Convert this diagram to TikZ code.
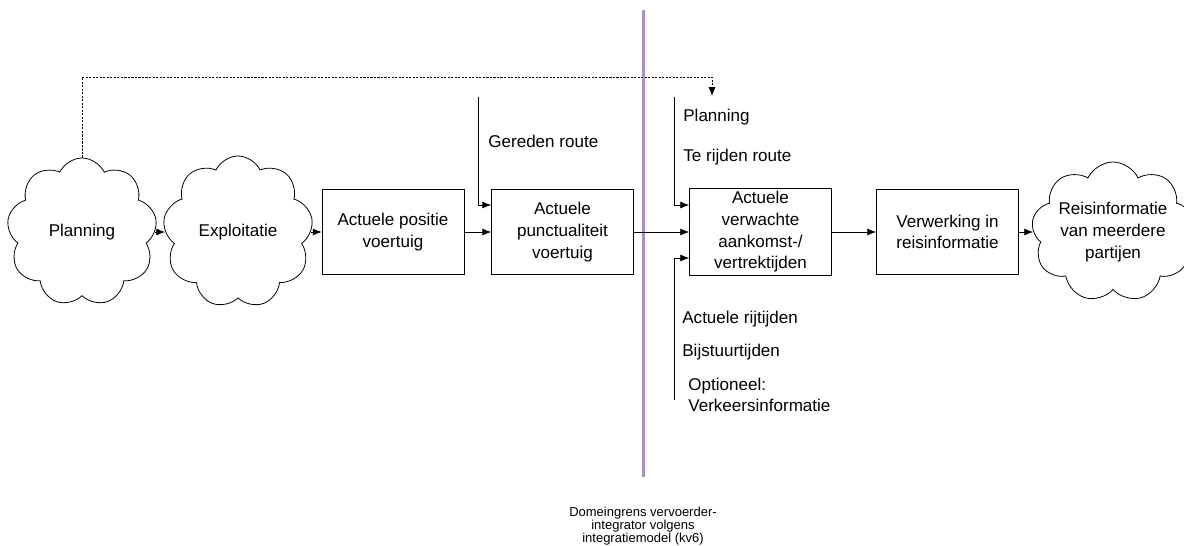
\documentclass[tikz,border=0pt]{standalone}
\usepackage{fontspec}
\setmainfont{Liberation Sans}
\usetikzlibrary{shapes.symbols, arrows.meta, positioning, calc}
\definecolor{grenslila}{RGB}{165, 145, 200}
\tikzset{
  procbox/.style={draw, line width=0.45pt, minimum width=2.84cm, minimum height=1.7cm, align=center, inner sep=2pt},
  wolk/.style={draw, cloud, cloud puffs=9, cloud puff arc=130, cloud ignores aspect, line width=0.45pt, align=center, inner sep=0pt},
  pijl/.style={line width=0.45pt, -{Latex[length=5pt, width=4pt]}},
  invoer/.style={anchor=west, inner sep=0pt, align=left}
}

\begin{document}
\begin{tikzpicture}[font=\fontsize{9.7}{12.3}\selectfont]
  \useasboundingbox (0,0) rectangle (23.68,-10.92);

  % Domeingrens
  \draw[grenslila, line width=1.7pt] (12.86,-0.2) coordinate (grenstop) -- (12.86,-9.54) coordinate (grensbodem);
  \node[below=0.6cm of grensbodem, align=center, inner sep=0pt, font=\fontsize{7.4}{7.4}\selectfont] (grenstekst) {
    Domeingrens vervoerder-\\integrator volgens\\integratiemodel (kv6)};

  % Keten
  \node[wolk, minimum width=3.0cm, minimum height=2.96cm] (plan) at (1.64,-4.64) {Planning};
  \node[wolk, minimum width=3.0cm, minimum height=3.04cm] (expl) at (4.76,-4.64) {Exploitatie};
  \node[procbox] (positie) at (7.86,-4.64) {Actuele positie\\voertuig};
  \node[procbox] (punct) at (11.25,-4.64) {Actuele\\punctualiteit\\voertuig};
  \node[procbox] (verw) at (15.21,-4.64) {Actuele\\verwachte\\aankomst-/\\vertrektijden};
  \node[procbox] (verwerk) at (18.95,-4.64) {Verwerking in\\reisinformatie};
  \node[wolk, minimum width=3.0cm, minimum height=2.8cm] (reis) at (22.26,-4.64) {Reisinformatie\\van meerdere\\partijen};

  \draw[pijl] (plan.east) -- (expl.west |- plan.east);
  \draw[pijl] (expl.east |- positie.west) -- (positie.west);
  \draw[pijl] (positie) -- (punct);
  \draw[pijl] (punct) -- (verw);
  \draw[pijl] (verw) -- (verwerk);
  \draw[pijl] (verwerk.east) -- (reis.west |- verwerk.east);

  % Invoer punctualiteit
  \coordinate (gerbron) at (9.56,-1.94);
  \draw[pijl] (gerbron) |- ([yshift=0.54cm]punct.west);
  \node[invoer] (gereden) at (9.76,-2.82) {Gereden route};

  % Invoer verwachte tijden
  \coordinate (verwbron) at (13.48,-1.94);
  \coordinate (verwbron2) at (13.48,-8.0);
  \draw[pijl] (verwbron) |- ([yshift=0.54cm]verw.west);
  \draw[pijl] (verwbron2) |- ([yshift=-0.52cm]verw.west);
  \node[invoer] (planin) at (13.66,-2.34) {Planning};
  \node[invoer] (routein) at (13.66,-3.14) {Te rijden route};
  \node[invoer] (rijtijden) at (13.64,-6.38) {Actuele rijtijden};
  \node[invoer] (bijstuur) at (13.64,-7.04) {Bijstuurtijden};
  \node[invoer] (optioneel) at (13.76,-7.9) {Optioneel:\\Verkeersinformatie};

  % Planning naar verwachte tijden
  \coordinate (planpijl) at (14.24,-1.92);
  \draw[pijl, line width=0.4pt, dash pattern=on 1.2pt off 0.8pt] (plan.north) |- ([yshift=0.38cm]planpijl) -- (planpijl);
\end{tikzpicture}
\end{document}
